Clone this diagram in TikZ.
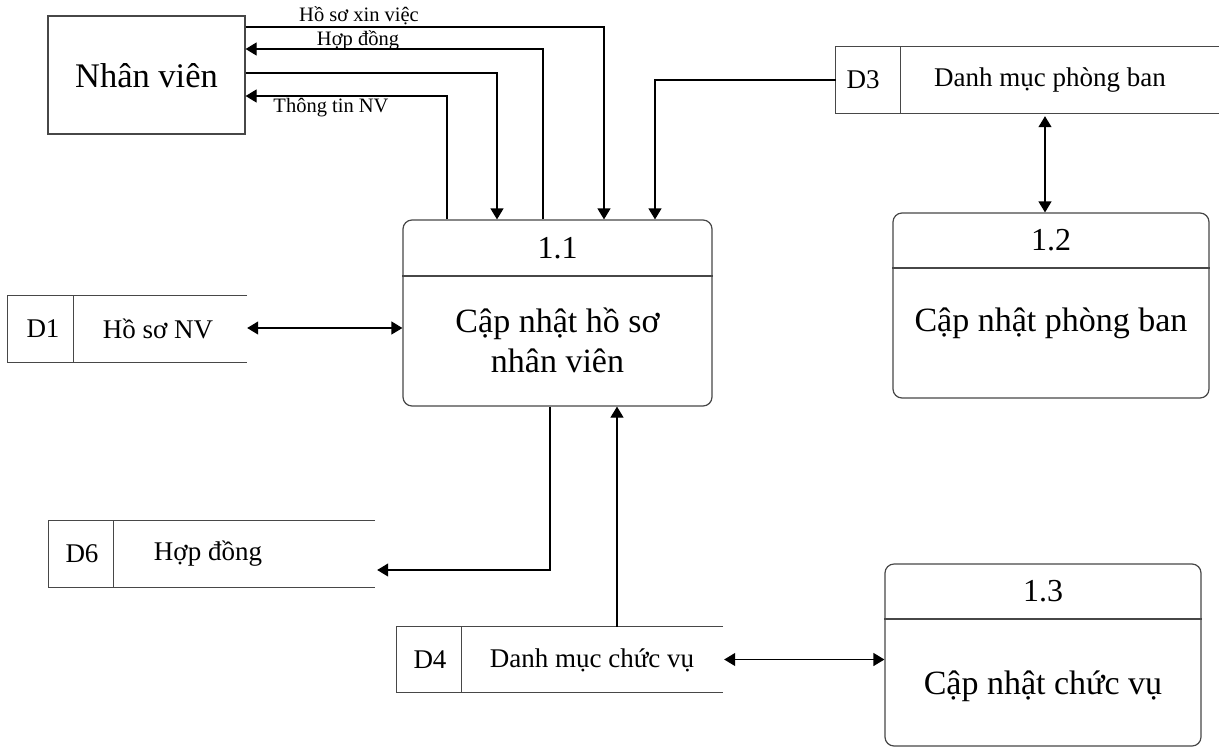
\documentclass[tikz,border=0pt]{standalone}
\usepackage{fontspec}
\setmainfont{Liberation Serif}
\usetikzlibrary{arrows.meta}
\begin{document}
\begin{tikzpicture}[x=1pt,y=-1pt,
  edge/.style={draw=black!72, line width=1.2pt},
  procbox/.style={edge, rounded corners=9pt, inner sep=0pt},
  entity/.style={edge, inner sep=0pt},
  storeframe/.style={inner sep=0pt},
  flow/.style={draw=black, line width=1.2pt, -{Triangle[width=13pt,length=11pt]}},
  bflow/.style={draw=black, line width=1.2pt, {Triangle[width=13pt,length=11pt]}-{Triangle[width=13pt,length=11pt]}},
  bigtxt/.style={font=\fontsize{34}{40}\selectfont, align=center, inner sep=0pt},
  numtxt/.style={font=\fontsize{32}{38}\selectfont, inner sep=0pt},
  storetxt/.style={font=\fontsize{27}{32}\selectfont, inner sep=0pt},
  lbl/.style={font=\fontsize{20.5}{24}\selectfont, inner sep=0pt},
  enttxt/.style={font=\fontsize{34.5}{40}\selectfont, inner sep=0pt}]

\useasboundingbox (0,0) rectangle (1219,748);

% external entity
\node[entity, minimum width=197pt, minimum height=118pt] (nv) at (146.5,75) {};
\node[enttxt] (nvt) at (146.5,76) {Nhân viên};

% process 1.1
\node[procbox, minimum width=309pt, minimum height=186pt] (p11) at (557.5,313) {};
\draw[edge] (p11.west |- 0,276) -- (p11.east |- 0,276);
\node[numtxt] (p11n) at (557.5,248) {1.1};
\node[bigtxt] (p11t) at (557.5,340) {Cập nhật hồ sơ\\nhân viên};

% process 1.2
\node[procbox, minimum width=316pt, minimum height=185pt] (p12) at (1051,305.5) {};
\draw[edge] (p12.west |- 0,268) -- (p12.east |- 0,268);
\node[numtxt] (p12n) at (1051,240) {1.2};
\node[bigtxt] (p12t) at (1051,323) {Cập nhật phòng ban};

% process 1.3
\node[procbox, minimum width=316pt, minimum height=182pt] (p13) at (1043,655) {};
\draw[edge] (p13.west |- 0,619) -- (p13.east |- 0,619);
\node[numtxt] (p13n) at (1043,591) {1.3};
\node[bigtxt] (p13t) at (1043,686) {Cập nhật chức vụ};

% data stores (open on the right)
\node[storeframe, minimum width=239pt, minimum height=66pt] (d1) at (127.5,329) {};
\draw[edge] (d1.north east) -- (d1.north west) -- (d1.south west) -- (d1.south east);
\draw[edge] ([xshift=66pt]d1.north west) -- ([xshift=66pt]d1.south west);
\node[storetxt] (d1a) at (43,329) {D1};
\node[storetxt] (d1b) at (158,329) {Hồ sơ NV};

\node[storeframe, minimum width=326pt, minimum height=66pt] (d6) at (212,554) {};
\draw[edge] (d6.north east) -- (d6.north west) -- (d6.south west) -- (d6.south east);
\draw[edge] ([xshift=65pt]d6.north west) -- ([xshift=65pt]d6.south west);
\node[storetxt] (d6a) at (82,554) {D6};
\node[storetxt] (d6b) at (208,554) {Hợp đồng};

\node[storeframe, minimum width=326pt, minimum height=65pt] (d4) at (560,659.5) {};
\draw[edge] (d4.north east) -- (d4.north west) -- (d4.south west) -- (d4.south east);
\draw[edge] ([xshift=65pt]d4.north west) -- ([xshift=65pt]d4.south west);
\node[storetxt] (d4a) at (430,660) {D4};
\node[storetxt] (d4b) at (592,660) {Danh mục chức vụ};

\node[storeframe, minimum width=390pt, minimum height=66pt] (d3) at (1031,80) {};
\draw[edge] (d3.north east) -- (d3.north west) -- (d3.south west) -- (d3.south east);
\draw[edge] ([xshift=65pt]d3.north west) -- ([xshift=65pt]d3.south west);
\node[storetxt] (d3a) at (863,80) {D3};
\node[storetxt] (d3b) at (1050,80) {Danh mục phòng ban};

% flows between the entity and process 1.1
\draw[flow] (nv.east |- 0,27) -| (p11.north -| 604,0);
\draw[flow] (p11.north -| 543,0) |- (nv.east |- 0,49);
\draw[flow] (nv.east |- 0,73) -| (p11.north -| 497,0);
\draw[flow] (p11.north -| 447,0) |- (nv.east |- 0,96);
\node[lbl] (l1) at (359,16) {Hồ sơ xin việc};
\node[lbl] (l2) at (358,40) {Hợp đồng};
\node[lbl] (l3) at (331,108) {Thông tin NV};

% flows with the data stores
\draw[flow] (d3.west) -| (p11.north -| 655,0);
\draw[bflow] ([yshift=-3pt]d3.south -| 1045,0) -- (p12.north -| 1045,0);
\draw[bflow] ([yshift=1pt]d1.east) -- ([yshift=1pt]d1.east -| p11.west);
\draw[flow] (p11.south -| 550,0) |- ([xshift=2pt,yshift=-16pt]d6.east);
\draw[flow] (d4.north -| 617,0) -- (p11.south -| 617,0);
\draw[bflow] ([xshift=1pt]d4.east) -- (d4.east -| p13.west);

\end{tikzpicture}
\end{document}
